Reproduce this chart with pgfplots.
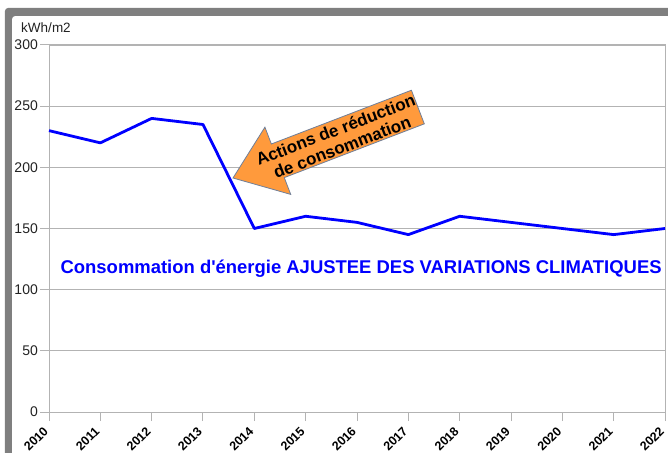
\documentclass[border=0pt]{standalone}
\usepackage{fontspec}
\setmainfont{Liberation Sans}[Ligatures=TeXOff]
\usepackage{pgfplots}
\pgfplotsset{compat=1.18}
\definecolor{gridgray}{HTML}{B3B3B3}
\definecolor{framegray}{HTML}{7F7F7F}
\definecolor{arroworange}{HTML}{FF9A3C}
\definecolor{arrowedge}{HTML}{6F7F99}
\definecolor{ticktext}{HTML}{222222}
\begin{document}
\begin{tikzpicture}[x=1pt,y=1pt]
\useasboundingbox (-49,-40) rectangle (619,412);
% outer frame
\fill[framegray, rounded corners=3pt] (-44,-60) -- (-44,404) -- (640,404) -- (640,396) -- (-37,396) -- (-37,-60) -- cycle;
\begin{axis}[
  at={(0pt,0pt)}, anchor=south west,
  scale only axis, width=616pt, height=367pt,
  xmin=2010, xmax=2022, ymin=0, ymax=300,
  xtick={2010,2011,...,2022},
  ytick={0,50,...,300},
  ymajorgrids,
  grid style={color=gridgray, line width=0.8pt},
  axis line style={gridgray, line width=1pt},
  tick style={gridgray, line width=1pt},
  tick align=outside,
  major tick length=9pt,
  xtick pos=bottom, ytick pos=left,
  /pgf/number format/.cd, 1000 sep={}, assume math mode=true,
  /pgfplots/.cd,
  yticklabel style={font=\fontsize{14}{16}\selectfont, text=ticktext, inner sep=1pt, xshift=-1pt},
  xticklabel style={font=\fontsize{12.5}{14}\selectfont\bfseries, xshift=-3pt, yshift=-8pt, rotate=45, anchor=east, inner sep=0pt},
  clip=false,
]
\addplot[color=blue, line width=2.8pt, line join=round] coordinates {
  (2010,230) (2011,220) (2012,240) (2013,235) (2014,150) (2015,160)
  (2016,155) (2017,145) (2018,160) (2019,155) (2020,150) (2021,145) (2022,150)
};
\node[anchor=base, text=blue, font=\fontsize{18.45}{21}\selectfont\bfseries] at (axis cs:2016.08,113.6)
  {Consommation d'énergie AJUSTEE DES VARIATIONS CLIMATIQUES};
\end{axis}
\node[font=\fontsize{13.5}{15}\selectfont, text=ticktext] at (-3,384) {kWh/m2};
% annotation arrow
\begin{scope}[shift={(184,234)}, rotate=21]
\draw[fill=arroworange, draw=arrowedge, line width=0.8pt, line join=miter]
  (0,0) -- (48,36) -- (48,18) -- (198,18) -- (198,-18) -- (48,-18) -- (48,-36) -- cycle;
\node[rotate=21, font=\fontsize{17}{18.5}\selectfont\bfseries, align=center, inner sep=0pt] at (113,-1)
  {Actions de réduction\\de consommation};
\end{scope}
\end{tikzpicture}
\end{document}
